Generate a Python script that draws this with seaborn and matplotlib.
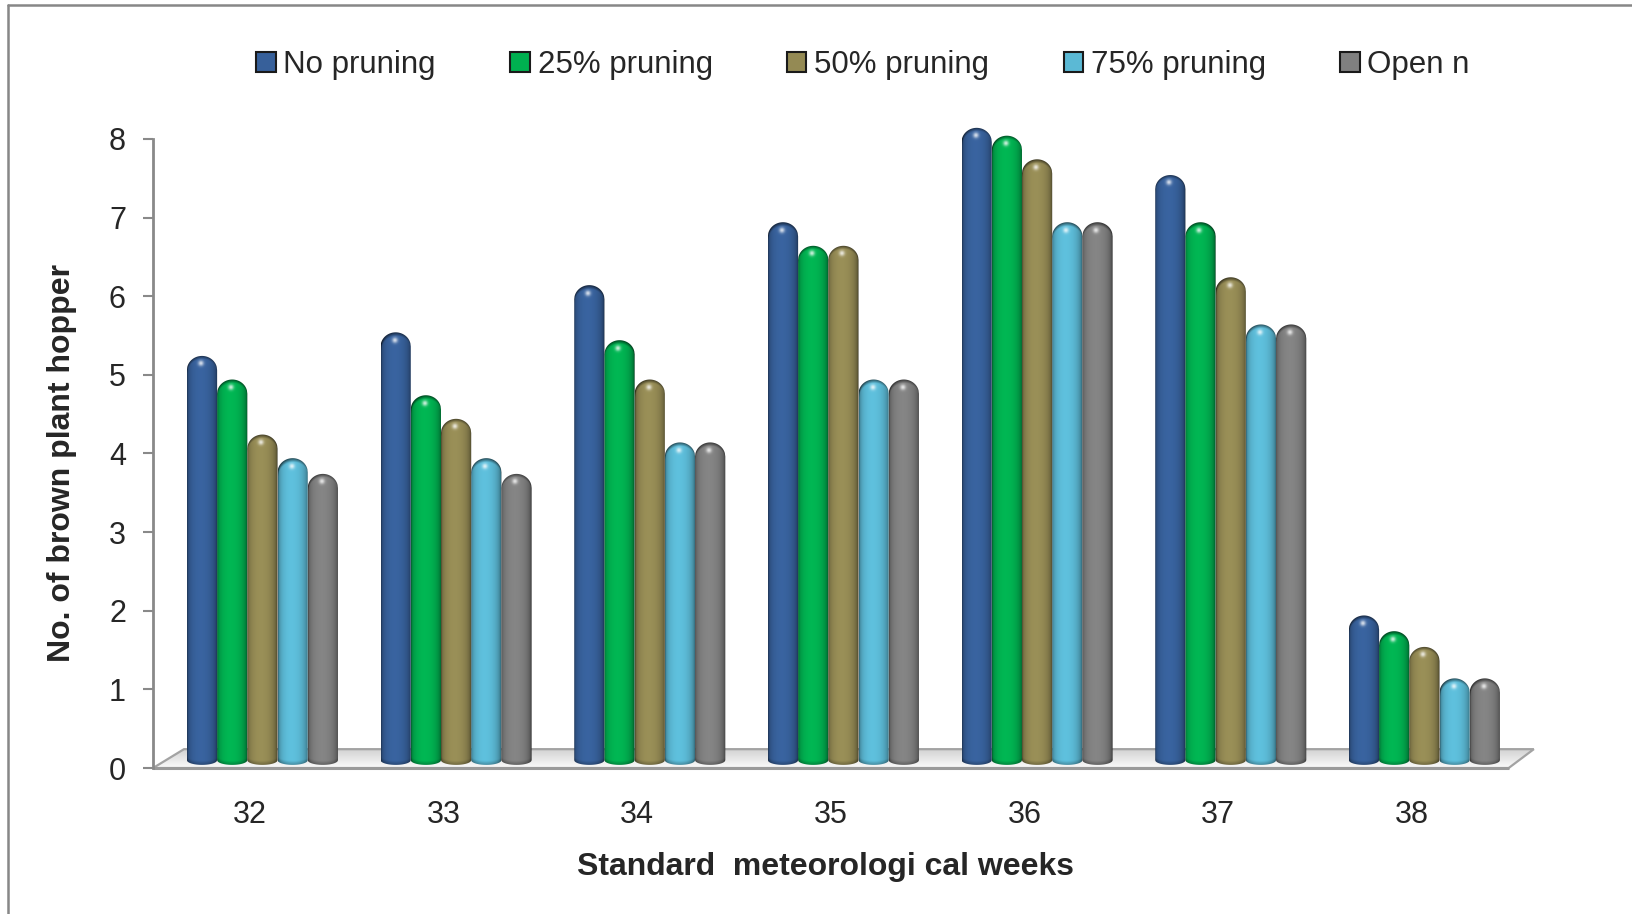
import numpy as np
import pandas as pd
import matplotlib
matplotlib.use("Agg")
import matplotlib.pyplot as plt
import seaborn as sns
from matplotlib.path import Path
from matplotlib.patches import PathPatch, Patch, Polygon
from matplotlib.lines import Line2D
from matplotlib.colors import to_rgb, LinearSegmentedColormap

# ---- data -------------------------------------------------------------
weeks = ["32", "33", "34", "35", "36", "37", "38"]
treatments = ["No pruning", "25% pruning", "50% pruning", "75% pruning", "Open n"]
no_pruning = [5.1, 5.4, 6.0, 6.8, 8.0, 7.4, 1.8]
pruning_25 = [4.8, 4.6, 5.3, 6.5, 7.9, 6.8, 1.6]
pruning_50 = [4.1, 4.3, 4.8, 6.5, 7.6, 6.1, 1.4]
pruning_75 = [3.8, 3.8, 4.0, 4.8, 6.8, 5.5, 1.0]
open_n = [3.6, 3.6, 4.0, 4.8, 6.8, 5.5, 1.0]
colors = ["#37609A", "#00B050", "#948A54", "#5BB9D5", "#808080"]
yticks = [0, 1, 2, 3, 4, 5, 6, 7, 8]

series = dict(zip(treatments, [no_pruning, pruning_25, pruning_50, pruning_75, open_n]))
df = pd.DataFrame(
    [{"week": w, "treatment": t, "count": v}
     for t, vals in series.items() for w, v in zip(weeks, vals)]
)

# ---- style ------------------------------------------------------------
sns.set_style("white")
plt.rcParams["font.family"] = ["Liberation Sans", "DejaVu Sans"]
axis_grey = "#898989"
DEPTH = 0.065  # sideways shift of the 3-D bars relative to their category

fig = plt.figure(figsize=(16.33, 9.14), dpi=100)
ax = fig.add_axes([0.0937, 0.1554, 0.8598, 0.7271])

sns.barplot(data=df, x="week", y="count", hue="treatment", order=weeks,
            hue_order=treatments, palette=colors, width=0.78, saturation=1,
            errorbar=None, legend=False, ax=ax)


def cylinder(ax, x0, w, value, color):
    """Shaded cylinder with a domed top standing on the floor."""
    cap, lift = 0.18, 0.14
    top = value + lift
    yc = top - cap
    u = np.linspace(0, 1, 81)
    arc = np.sqrt(np.clip(1 - (2 * u - 1) ** 2, 0, 1))
    xs = x0 + w * u
    bottom = 0.10 - 0.06 * arc
    dome = yc + cap * arc
    verts = np.vstack([np.column_stack([xs, bottom]),
                       np.column_stack([xs[::-1], dome[::-1]]),
                       [[xs[0], bottom[0]]]])
    codes = [Path.MOVETO] + [Path.LINETO] * (len(verts) - 2) + [Path.CLOSEPOLY]
    clip = PathPatch(Path(verts, codes), transform=ax.transData,
                     facecolor="none", edgecolor="none")
    ax.add_patch(clip)

    nx, ny = 80, max(int(top / 0.008), 40)
    U, Y = np.meshgrid(np.linspace(0, 1, nx), np.linspace(0, top, ny))
    theta = np.arcsin(np.clip(2 * U - 1, -1, 1))
    inten = 0.18 + 0.86 * np.clip(np.cos(theta + 0.12), 0, 1) ** 0.5
    surf = yc + cap * np.sqrt(np.clip(1 - (2 * U - 1) ** 2, 0, 1))
    d = surf - Y
    inten = inten * (1 - 0.6 * np.clip(1 - d / 0.05, 0, 1))
    base_d = Y - (0.10 - 0.06 * np.sqrt(np.clip(1 - (2 * U - 1) ** 2, 0, 1)))
    inten = inten * (1 - 0.25 * np.clip(1 - base_d / 0.05, 0, 1))
    hl = 0.8 * np.exp(-(((U - 0.45) / 0.09) ** 2) - (((Y - (top - 0.10)) / 0.035) ** 2))
    c = np.array(to_rgb(color))
    img = np.clip(c[None, None, :] * inten[..., None], 0, 1)
    img = img + (1 - img) * hl[..., None]
    im = ax.imshow(np.clip(img, 0, 1), extent=[x0, x0 + w, 0, top], origin="lower",
                   aspect="auto", interpolation="bilinear", zorder=3)
    im.set_clip_path(clip)


for container, color in zip(ax.containers, colors):
    for bar in container:
        bar.set_alpha(0)
        cylinder(ax, bar.get_x() + DEPTH, bar.get_width(), bar.get_height(), color)

# floor slab under the bars
floor_pts = [(-0.5, 0.0), (6.5, 0.0), (6.63, 0.24), (-0.34, 0.24)]
floor = Polygon(floor_pts, closed=True, facecolor="none", edgecolor="#a3a3a3",
                lw=1.6, zorder=2)
ax.add_patch(floor)
grad = np.linspace(0, 1, 50)[:, None] * np.ones((1, 4))
fl = ax.imshow(grad, cmap=LinearSegmentedColormap.from_list("floor", ["#fbfbfb", "#d2d2d2"]),
               extent=[-0.5, 6.63, 0, 0.24], origin="lower", aspect="auto", zorder=1)
fl.set_clip_path(floor)
ax.plot([-0.5, 6.5], [0, 0], color="#9a9a9a", lw=2.2, zorder=2, solid_capstyle="butt")

# ---- axes -------------------------------------------------------------
ax.set_xlim(-0.5, 6.75)
ax.set_ylim(-0.05, 8.4)
ax.set_yticks(yticks)
for s in ["top", "right", "bottom"]:
    ax.spines[s].set_visible(False)
ax.spines["left"].set_bounds(0, 8)
ax.spines["left"].set_color(axis_grey)
ax.spines["left"].set_linewidth(2)
ax.tick_params(axis="y", direction="out", length=7.5, width=1.5, color=axis_grey,
               labelsize=22, pad=12, left=True)
ax.tick_params(axis="x", length=0, labelsize=22, pad=20)
ax.grid(False)

ax.set_ylabel("No. of brown plant hopper", fontsize=23, fontweight="bold", va="center")
ax.yaxis.set_label_coords(-0.0645, 0.465)
ax.set_xlabel("Standard  meteorologi cal weeks", fontsize=23, fontweight="bold", va="center")
ax.xaxis.set_label_coords(0.479, -0.143)

handles = [Patch(facecolor=c, edgecolor="#1a1a1a", lw=1.5) for c in colors]
fig.legend(handles, treatments, loc="center", bbox_to_anchor=(0.5285, 0.929), ncol=5,
           frameon=False, fontsize=22.5, handlelength=0.62, handleheight=0.62,
           handletextpad=0.25, columnspacing=2.38)

# outer chart border (left and top edges)
fig.add_artist(Line2D([8 / 1633, 8 / 1633], [0, 1 - 5 / 914], transform=fig.transFigure,
                      color="#878787", lw=1.8))
fig.add_artist(Line2D([8 / 1633, 1], [1 - 5 / 914, 1 - 5 / 914], transform=fig.transFigure,
                      color="#878787", lw=1.8))

fig.savefig("out.png", dpi=100, facecolor="white")
